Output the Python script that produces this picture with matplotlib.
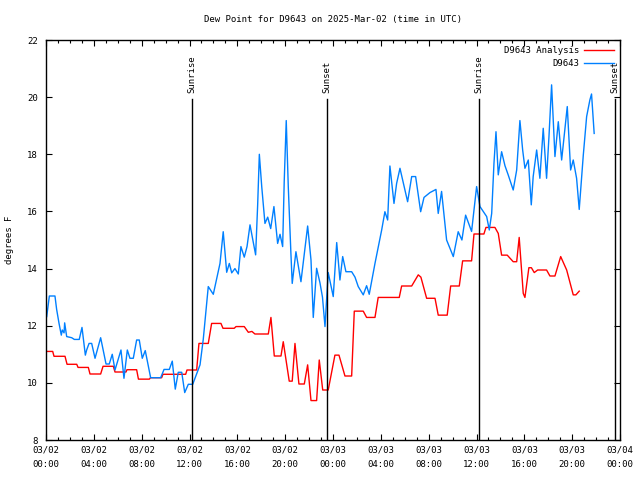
import matplotlib
matplotlib.use('Agg')
import matplotlib.pyplot as plt
import matplotlib.dates as mdates
import pandas as pd

plt.rcParams['font.family'] = ['DejaVu Sans Mono']

# hours since 2025-03-02 00:00 UTC, dew point in F
analysis_hours = [0.06, 0.56, 0.67, 1.59, 1.76, 2.57, 2.68, 3.54, 3.68, 4.57, 4.77, 5.63, 5.77, 6.69,
                  6.77, 7.58, 7.73, 8.64, 8.74, 9.67, 9.78, 11.68, 11.79, 12.60, 12.79, 13.57, 13.85,
                  14.63, 14.80, 15.74, 15.89, 16.58, 16.92, 17.22, 17.47, 18.59, 18.81, 19.09, 19.65,
                  19.84, 20.34, 20.59, 20.82, 21.15, 21.60, 21.88, 22.16, 22.63, 22.85, 23.14, 23.60,
                  24.16, 24.50, 25.00, 25.56, 25.78, 26.53, 26.81, 27.51, 27.78, 29.54, 29.74, 30.58,
                  31.13, 31.35, 31.83, 32.53, 32.80, 33.55, 33.84, 34.56, 34.84, 35.59, 35.79, 36.62,
                  36.79, 37.54, 37.82, 38.10, 38.57, 39.07, 39.36, 39.57, 39.91, 40.05, 40.38, 40.59,
                  40.83, 41.11, 41.86, 42.14, 42.56, 43.04, 43.54, 44.09, 44.31, 44.59]
analysis_vals = [11.10, 11.10, 10.93, 10.93, 10.65, 10.65, 10.54, 10.54, 10.31, 10.31, 10.58, 10.58, 10.38, 10.38,
                 10.46, 10.46, 10.13, 10.13, 10.18, 10.18, 10.30, 10.30, 10.45, 10.45, 11.38, 11.38, 12.08,
                 12.08, 11.91, 11.91, 11.97, 11.97, 11.77, 11.80, 11.71, 11.71, 12.29, 10.94, 10.94,
                 11.44, 10.06, 10.06, 11.38, 9.96, 9.96, 10.63, 9.38, 9.38, 10.80, 9.75, 9.75,
                 10.97, 10.97, 10.24, 10.24, 12.51, 12.51, 12.29, 12.29, 12.99, 12.99, 13.39, 13.39,
                 13.78, 13.70, 12.96, 12.96, 12.37, 12.37, 13.39, 13.39, 14.27, 14.27, 15.21, 15.21,
                 15.44, 15.44, 15.23, 14.47, 14.47, 14.24, 14.24, 15.09, 13.13, 12.99, 14.03, 14.03,
                 13.86, 13.95, 13.95, 13.74, 13.74, 14.42, 13.95, 13.08, 13.08, 13.21]

obs_hours = [0.06, 0.28, 0.75, 0.89, 1.09, 1.28, 1.36, 1.51, 1.56, 1.73, 2.15, 2.37, 2.78, 3.01, 3.29,
             3.40, 3.60, 3.82, 4.10, 4.57, 5.02, 5.29, 5.54, 5.77, 6.27, 6.52, 6.80, 7.02, 7.30, 7.58,
             7.80, 8.05, 8.30, 8.75, 9.59, 9.87, 10.31, 10.56, 10.81, 11.06, 11.35, 11.60, 11.90, 12.27,
             12.88, 13.15, 13.57, 13.99, 14.55, 14.82, 15.11, 15.33, 15.53, 15.80, 16.08, 16.30, 16.58,
             16.81, 17.06, 17.53, 17.70, 17.84, 18.04, 18.31, 18.54, 18.79, 19.06, 19.37, 19.57, 19.79,
             19.92, 20.09, 20.26, 20.48, 20.59, 20.90, 21.32, 21.88, 22.16, 22.35, 22.63, 22.91, 23.12,
             23.33, 23.60, 24.02, 24.31, 24.58, 24.81, 25.08, 25.56, 25.84, 26.11, 26.53, 26.81, 27.03,
             27.51, 28.07, 28.34, 28.57, 28.76, 29.10, 29.32, 29.60, 30.24, 30.58, 30.91, 31.33, 31.61,
             32.11, 32.61, 32.80, 33.08, 33.50, 34.06, 34.47, 34.78, 35.09, 35.59, 36.01, 36.29, 36.85,
             37.07, 37.27, 37.46, 37.63, 37.82, 38.10, 38.38, 38.65, 39.07, 39.36, 39.63, 39.86, 40.05,
             40.33, 40.58, 40.74, 41.03, 41.30, 41.58, 41.86, 42.06, 42.28, 42.56, 42.84, 43.12, 43.59,
             43.87, 44.09, 44.37, 44.59, 44.93, 45.21, 45.48, 45.62, 45.84]
obs_vals = [12.32, 13.04, 13.04, 12.57, 12.08, 11.67, 11.85, 11.75, 12.10, 11.62, 11.58, 11.52, 11.52, 11.94, 10.97,
            11.15, 11.38, 11.38, 10.86, 11.58, 10.66, 10.66, 11.00, 10.45, 11.15, 10.16, 11.15, 10.86, 10.86, 11.50,
            11.50, 10.86, 11.13, 10.18, 10.18, 10.47, 10.47, 10.76, 9.78, 10.37, 10.37, 9.66, 9.95, 9.95,
            10.63, 11.52, 13.37, 13.10, 14.18, 15.29, 13.87, 14.18, 13.85, 14.00, 13.81, 14.77, 14.40,
            14.77, 15.53, 14.48, 16.23, 18.00, 16.87, 15.58, 15.80, 15.40, 16.17, 14.88, 15.20, 14.77,
            17.04, 19.18, 16.87, 14.53, 13.48, 14.59, 13.54, 15.49, 14.30, 12.29, 14.01, 13.50, 13.00,
            11.97, 13.86, 13.02, 14.91, 13.60, 14.42, 13.89, 13.89, 13.70, 13.37, 13.08, 13.40, 13.10,
            14.18, 15.35, 15.99, 15.70, 17.59, 16.28, 16.98, 17.51, 16.34, 17.22, 17.22, 15.99, 16.49,
            16.66, 16.77, 15.93, 16.70, 15.00, 14.42, 15.29, 15.00, 15.87, 15.30, 16.87, 16.17, 15.82,
            15.35, 15.93, 17.68, 18.79, 17.28, 18.09, 17.60, 17.28, 16.75, 17.45, 19.18, 18.15, 17.51,
            17.80, 16.23, 17.22, 18.15, 17.16, 18.91, 17.16, 18.62, 20.43, 17.92, 19.14, 17.80, 19.67,
            17.45, 17.80, 17.16, 16.07, 17.97, 19.32, 19.90, 20.11, 18.73]

event_hours = [12.2, 23.5, 36.2, 47.6]
event_labels = ['Sunrise', 'Sunset', 'Sunrise', 'Sunset']

start = pd.Timestamp('2025-03-02 00:00')
def to_time(h):
    return start + pd.to_timedelta(h, unit='h')

FS = 6.5

fig = plt.figure(figsize=(6.4, 4.8), dpi=100)
ax = fig.add_axes([46/640, 40/480, 574/640, 400/480])

ax.plot(to_time(analysis_hours), analysis_vals, color='#ff0000', lw=1.0, label='D9643 Analysis')
ax.plot(to_time(obs_hours), obs_vals, color='#0080ff', lw=1.0, label='D9643')

for h, lab in zip(event_hours, event_labels):
    t = to_time(h)
    ax.plot([t, t], [8, 19.93], color='black', lw=1.0)
    ax.text(t, 20.15, lab, rotation=90, ha='center', va='bottom', fontsize=FS)

ax.set_xlim(start, start + pd.Timedelta(hours=48))
ax.set_ylim(8, 22)
ax.set_yticks(range(8, 23, 2))
ax.xaxis.set_major_locator(mdates.HourLocator(byhour=[0, 4, 8, 12, 16, 20]))
ax.xaxis.set_minor_locator(mdates.HourLocator())
ax.xaxis.set_major_formatter(mdates.DateFormatter('%m/%d\n%H:%M'))
ax.tick_params(which='both', direction='in', top=True, right=True, labelsize=FS)
ax.tick_params(which='major', length=4, width=0.8)
ax.tick_params(which='minor', length=2.5, width=0.8)
ax.tick_params(axis='y', pad=6)
ax.tick_params(axis='x', pad=4)
for s in ax.spines.values():
    s.set_linewidth(1.0)

fig.canvas.draw()
for lbl in ax.get_xticklabels():
    lbl.set_linespacing(1.75)

ax.set_ylabel('degrees F', fontsize=FS, labelpad=9)
ax.set_title('Dew Point for D9643 on 2025-Mar-02 (time in UTC)', fontsize=FS, pad=13)

ax.legend(loc='upper right', frameon=False, markerfirst=False, fontsize=FS,
          handlelength=3.3, handletextpad=0.6, borderaxespad=0.25, labelspacing=0.5)

fig.savefig('out.png', dpi=100)
